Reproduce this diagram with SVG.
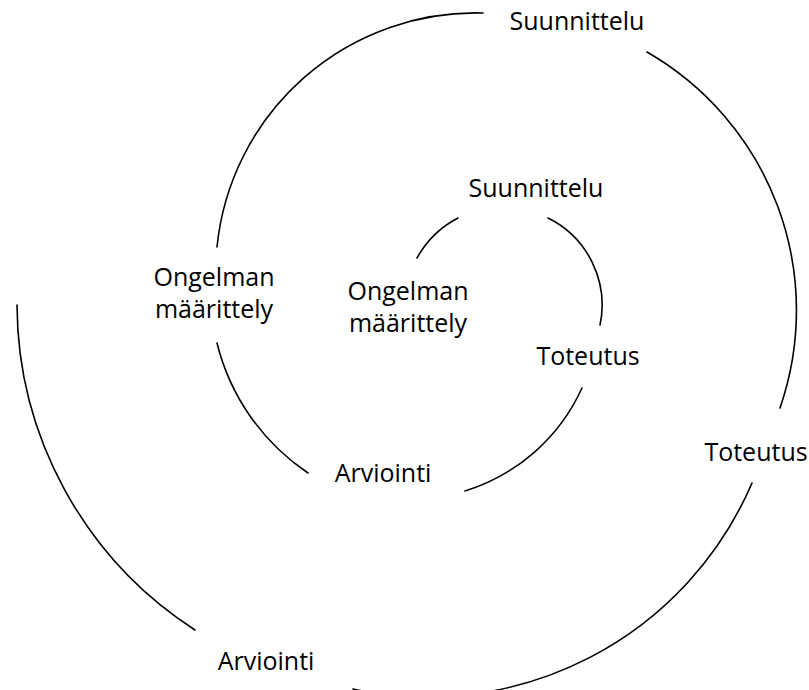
<svg xmlns="http://www.w3.org/2000/svg" width="809" height="690" viewBox="0 0 809 690">
<style>
  .arc { fill: none; stroke: #000; stroke-width: 1.6; stroke-linecap: round; }
  .box { fill: #fff; }
  .lbl { font-family: "Open Sans", "Liberation Sans", sans-serif; font-size: 25px; fill: #000; text-anchor: middle; }
</style>
<rect width="809" height="690" fill="#fff"/>
<g id="connectors">
  <path class="arc" d="M417,258 A99,99 0 0 1 458,218"/>
  <path class="arc" d="M548,218 A97,97 0 0 1 600,325"/>
  <path class="arc" d="M582,388 A190,190 0 0 1 465,491"/>
  <path class="arc" d="M308,473 A220,220 0 0 1 217,343"/>
  <path class="arc" d="M217,247 A260,260 0 0 1 483,13"/>
  <path class="arc" d="M647,52 A298,298 0 0 1 780,408"/>
  <path class="arc" d="M752,483 A353,353 0 0 1 353,689"/>
  <path class="arc" d="M195,630 A389,389 0 0 1 17,305"/>
</g>
<g id="outer-suunnittelu"><text class="lbl" x="577" y="30">Suunnittelu</text></g>
<g id="inner-suunnittelu"><text class="lbl" x="536" y="197">Suunnittelu</text></g>
<g id="inner-ongelman"><text class="lbl" x="408" y="300">Ongelman<tspan x="408" dy="31.5">määrittely</tspan></text></g>
<g id="outer-ongelman"><text class="lbl" x="214" y="286">Ongelman<tspan x="214" dy="31.5">määrittely</tspan></text></g>
<g id="inner-toteutus"><text class="lbl" x="588" y="365">Toteutus</text></g>
<g id="outer-toteutus"><text class="lbl" x="756" y="461">Toteutus</text></g>
<g id="inner-arviointi"><text class="lbl" x="383" y="482">Arviointi</text></g>
<g id="outer-arviointi"><text class="lbl" x="266" y="670">Arviointi</text></g>
</svg>
